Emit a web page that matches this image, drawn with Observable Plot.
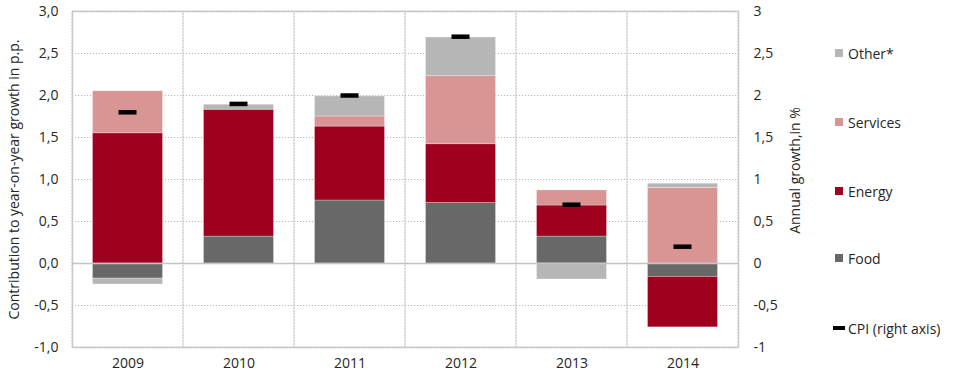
<!DOCTYPE html>
<html><head><meta charset="utf-8">
<script src="https://cdn.jsdelivr.net/npm/d3@7"></script>
<script src="https://cdn.jsdelivr.net/npm/@observablehq/plot@0.6"></script>
<style>
body{margin:0;background:#fff;font-family:"Open Sans",sans-serif;}
#wrap{position:relative;width:960px;height:384px;}
#wrap svg{position:absolute;left:0;top:0;}
.leg{position:absolute;left:835px;font-size:14px;color:#262626;display:flex;align-items:center;white-space:nowrap;height:20px;margin-top:-10px;}
.sw{width:8px;height:8px;margin-right:5px;}
.ln{width:12px;height:3.5px;background:#000;margin-left:-2px;margin-right:3px;}
</style></head><body><div id="wrap"></div>
<script>
const years = ["2009","2010","2011","2012","2013","2014"];
const food = [-0.18, 0.32, 0.75, 0.72, 0.32, -0.16];
const energy = [1.55, 1.51, 0.88, 0.70, 0.37, -0.60];
const services = [0.50, 0.00, 0.12, 0.81, 0.18, 0.90];
const other = [-0.07, 0.06, 0.24, 0.46, -0.19, 0.05];
const cpi = [1.8, 1.9, 2.0, 2.7, 0.7, 0.2];
const seriesNames = ["Food", "Energy", "Services", "Other*"];
const seriesColors = ["#686868", "#9e001e", "#d99494", "#b6b6b6"];
const yTicks = [-1, -0.5, 0, 0.5, 1, 1.5, 2, 2.5, 3];
const legendNames = ["Other*", "Services", "Energy", "Food", "CPI (right axis)"];
const leftTitle = "Contribution to year-on-year growth in p.p.";
const rightTitle = "Annual growth,in %";

const seriesValues = [food, energy, services, other];
const rows = [];
years.forEach((yr, i) => seriesNames.forEach((s, j) => rows.push({year: yr, series: s, value: seriesValues[j][i]})));
const cpiRows = years.map((yr, i) => ({year: yr, cpi: cpi[i]}));

const fmtL = d => d3.format(".1f")(d).replace(".", ",").replace("\u2212", "-");
const fmtR = d => String(d).replace(".", ",");

const grid = {stroke: "#b8b8b8", strokeDasharray: "1.2,1.8", strokeWidth: 1};
const textColor = "#262626";

const chart = Plot.plot({
  width: 960, height: 384,
  marginLeft: 72, marginRight: 222, marginTop: 11, marginBottom: 37,
  style: {fontFamily: "Open Sans", fontSize: "14px", color: textColor, background: "transparent", overflow: "visible"},
  x: {domain: years, padding: 0, label: null},
  y: {domain: [-1, 3], label: null},
  color: {domain: seriesNames, range: seriesColors},
  marks: [
    Plot.ruleY(yTicks.filter(d => d !== 0), grid),
    Plot.barY(years, {x: d => d, y1: -1, y2: 3, fill: "none", ...grid}),
    Plot.frame({stroke: "#c8c8c8", strokeWidth: 1.5}),
    Plot.barY(rows, Plot.stackY({x: "year", y: "value", fill: "series", order: seriesNames,
      insetLeft: 20.5, insetRight: 20.5, stroke: "#fff", strokeOpacity: 0.35, strokeWidth: 0.8})),
    Plot.ruleY([0], {stroke: "#c4c4c4", strokeWidth: 1.5}),
    Plot.tickY(cpiRows, {x: "year", y: "cpi", stroke: "#000", strokeWidth: 4.5, insetLeft: 46.5, insetRight: 46.5}),
    Plot.axisY({anchor: "left", ticks: yTicks, tickSize: 0, tickPadding: 14, tickFormat: fmtL,
      label: leftTitle, labelAnchor: "center", labelArrow: "none", labelOffset: 63}),
    Plot.axisY({anchor: "right", ticks: yTicks, tickSize: 0, tickPadding: 15, tickFormat: fmtR, label: null}),
    Plot.text([rightTitle], {frameAnchor: "right", rotate: -90, lineAnchor: "bottom", textAnchor: "middle",
      dx: 61, dy: -9, fill: textColor, fontSize: 14}),
    Plot.axisX({tickSize: 0, tickPadding: 11, label: null})
  ]
});
const wrap = document.getElementById("wrap");
wrap.appendChild(chart);

const legendY = [53, 122, 191, 258, 328];
legendNames.forEach((name, i) => {
  const div = document.createElement("div");
  div.className = "leg";
  div.style.top = legendY[i] + "px";
  const sw = document.createElement("span");
  if (i < 4) {
    sw.className = "sw";
    sw.style.background = seriesColors[seriesNames.indexOf(name)];
  } else {
    sw.className = "ln";
  }
  div.appendChild(sw);
  const t = document.createElement("span");
  t.textContent = name;
  div.appendChild(t);
  wrap.appendChild(div);
});
</script></body></html>
